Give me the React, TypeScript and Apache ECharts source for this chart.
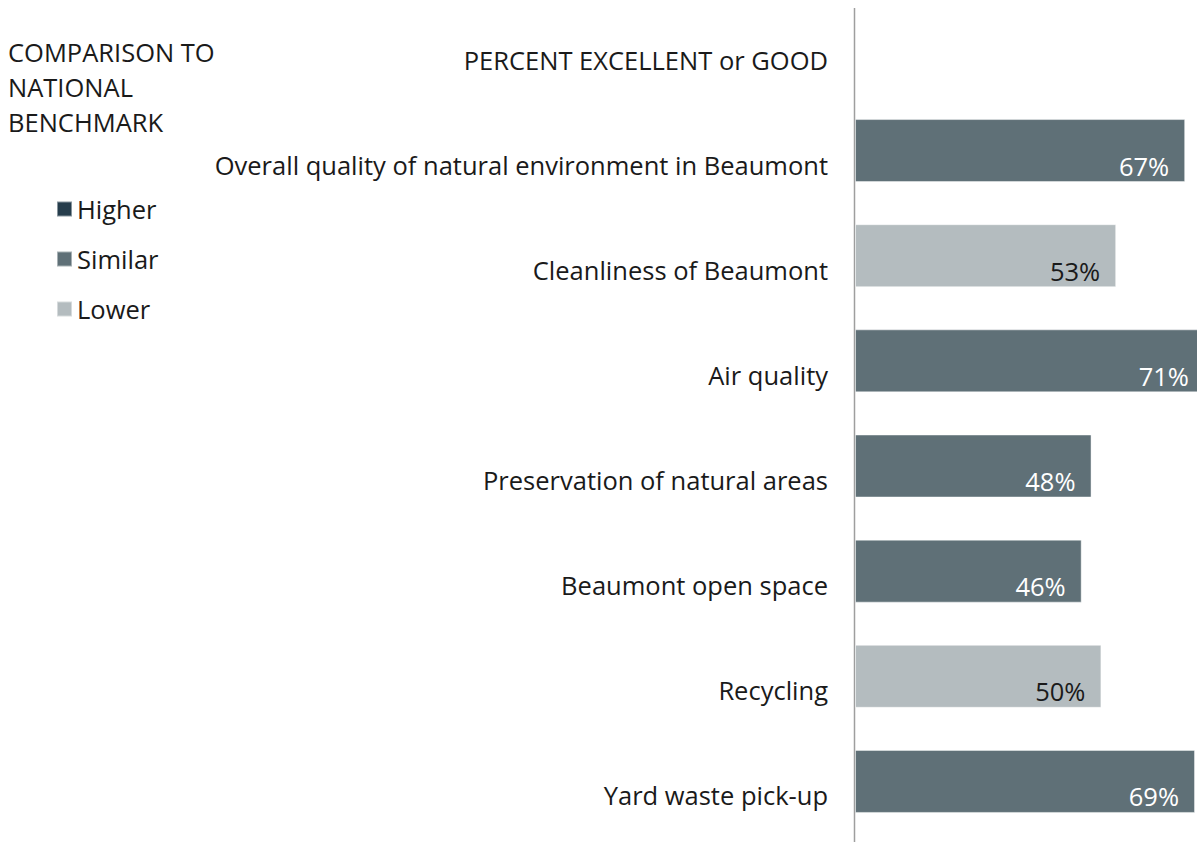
import React, { useEffect, useRef } from "react";
import * as echarts from "echarts";

const categories = [
  "Overall quality of natural environment in Beaumont",
  "Cleanliness of Beaumont",
  "Air quality",
  "Preservation of natural areas",
  "Beaumont open space",
  "Recycling",
  "Yard waste pick-up",
];
const values = [67, 53, 71, 48, 46, 50, 69];
const comparison = ["Similar", "Lower", "Similar", "Similar", "Similar", "Lower", "Similar"];
const groups = ["Higher", "Similar", "Lower"];
const groupColors: Record<string, string> = {
  Higher: "#263d4c",
  Similar: "#5f7077",
  Lower: "#b4bcbf",
};
const labelColors: Record<string, string> = {
  Higher: "#ffffff",
  Similar: "#ffffff",
  Lower: "#1a1a1a",
};

const FONT = "Open Sans";
const FS = 25.5;

export default function App() {
  const ref = useRef<HTMLDivElement>(null);
  useEffect(() => {
    if (!ref.current) return;
    const chart = echarts.init(ref.current, undefined, { renderer: "svg" });
    const series = groups.map((g) => ({
      name: g,
      type: "bar",
      stack: "all",
      barWidth: 63,
      clip: false,
      itemStyle: { color: groupColors[g], borderColor: "rgba(255,255,255,0.45)", borderWidth: 1 },
      label: {
        show: true,
        position: "insideRight",
        distance: 16,
        offset: [0, 15],
        color: labelColors[g],
        fontFamily: FONT,
        fontSize: FS,
        formatter: (p: any) => (p.value == null ? "" : p.value + "%"),
      },
      data: values.map((v, i) => (comparison[i] === g ? v : null)),
    }));
    chart.setOption({
      animation: false,
      textStyle: { fontFamily: FONT },
      legend: {
        orient: "vertical",
        left: 56,
        top: 196,
        padding: 0,
        itemWidth: 15,
        itemHeight: 15,
        itemGap: 24,
        icon: "rect",
        selectedMode: false,
        data: groups,
        textStyle: { fontFamily: FONT, fontSize: FS, color: "#1a1a1a", padding: [0, 0, 0, 0] },
      },
      grid: { left: 855, top: 98, bottom: 8, right: 0, containLabel: false },
      xAxis: {
        type: "value",
        min: 0,
        max: 69.4,
        show: false,
      },
      yAxis: {
        type: "category",
        inverse: true,
        data: categories,
        axisLine: { show: false },
        axisTick: { show: false },
        axisLabel: {
          margin: 27,
          fontFamily: FONT,
          fontSize: FS,
          color: "#1a1a1a",
          verticalAlign: "top",
          lineHeight: 28,
        },
      },
      graphic: [
        {
          type: "line",
          shape: { x1: 854.5, y1: 8, x2: 854.5, y2: 842 },
          style: { stroke: "#9e9e9e", lineWidth: 1.5 },
          silent: true,
        },
        {
          type: "text",
          right: 1197 - 828,
          top: 47,
          style: { text: "PERCENT EXCELLENT or GOOD", fontFamily: FONT, fontSize: FS, fill: "#1a1a1a" },
        },
        {
          type: "text",
          left: 8,
          top: 34,
          style: {
            text: "COMPARISON TO\nNATIONAL\nBENCHMARK",
            fontFamily: FONT,
            fontSize: FS,
            lineHeight: 35,
            fill: "#1a1a1a",
          },
        },
      ],
      series,
    });
    return () => chart.dispose();
  }, []);
  return (
    <div
      ref={ref}
      style={{ position: "fixed", left: 0, top: 0, width: 1197, height: 842, background: "#ffffff" }}
    />
  );
}
